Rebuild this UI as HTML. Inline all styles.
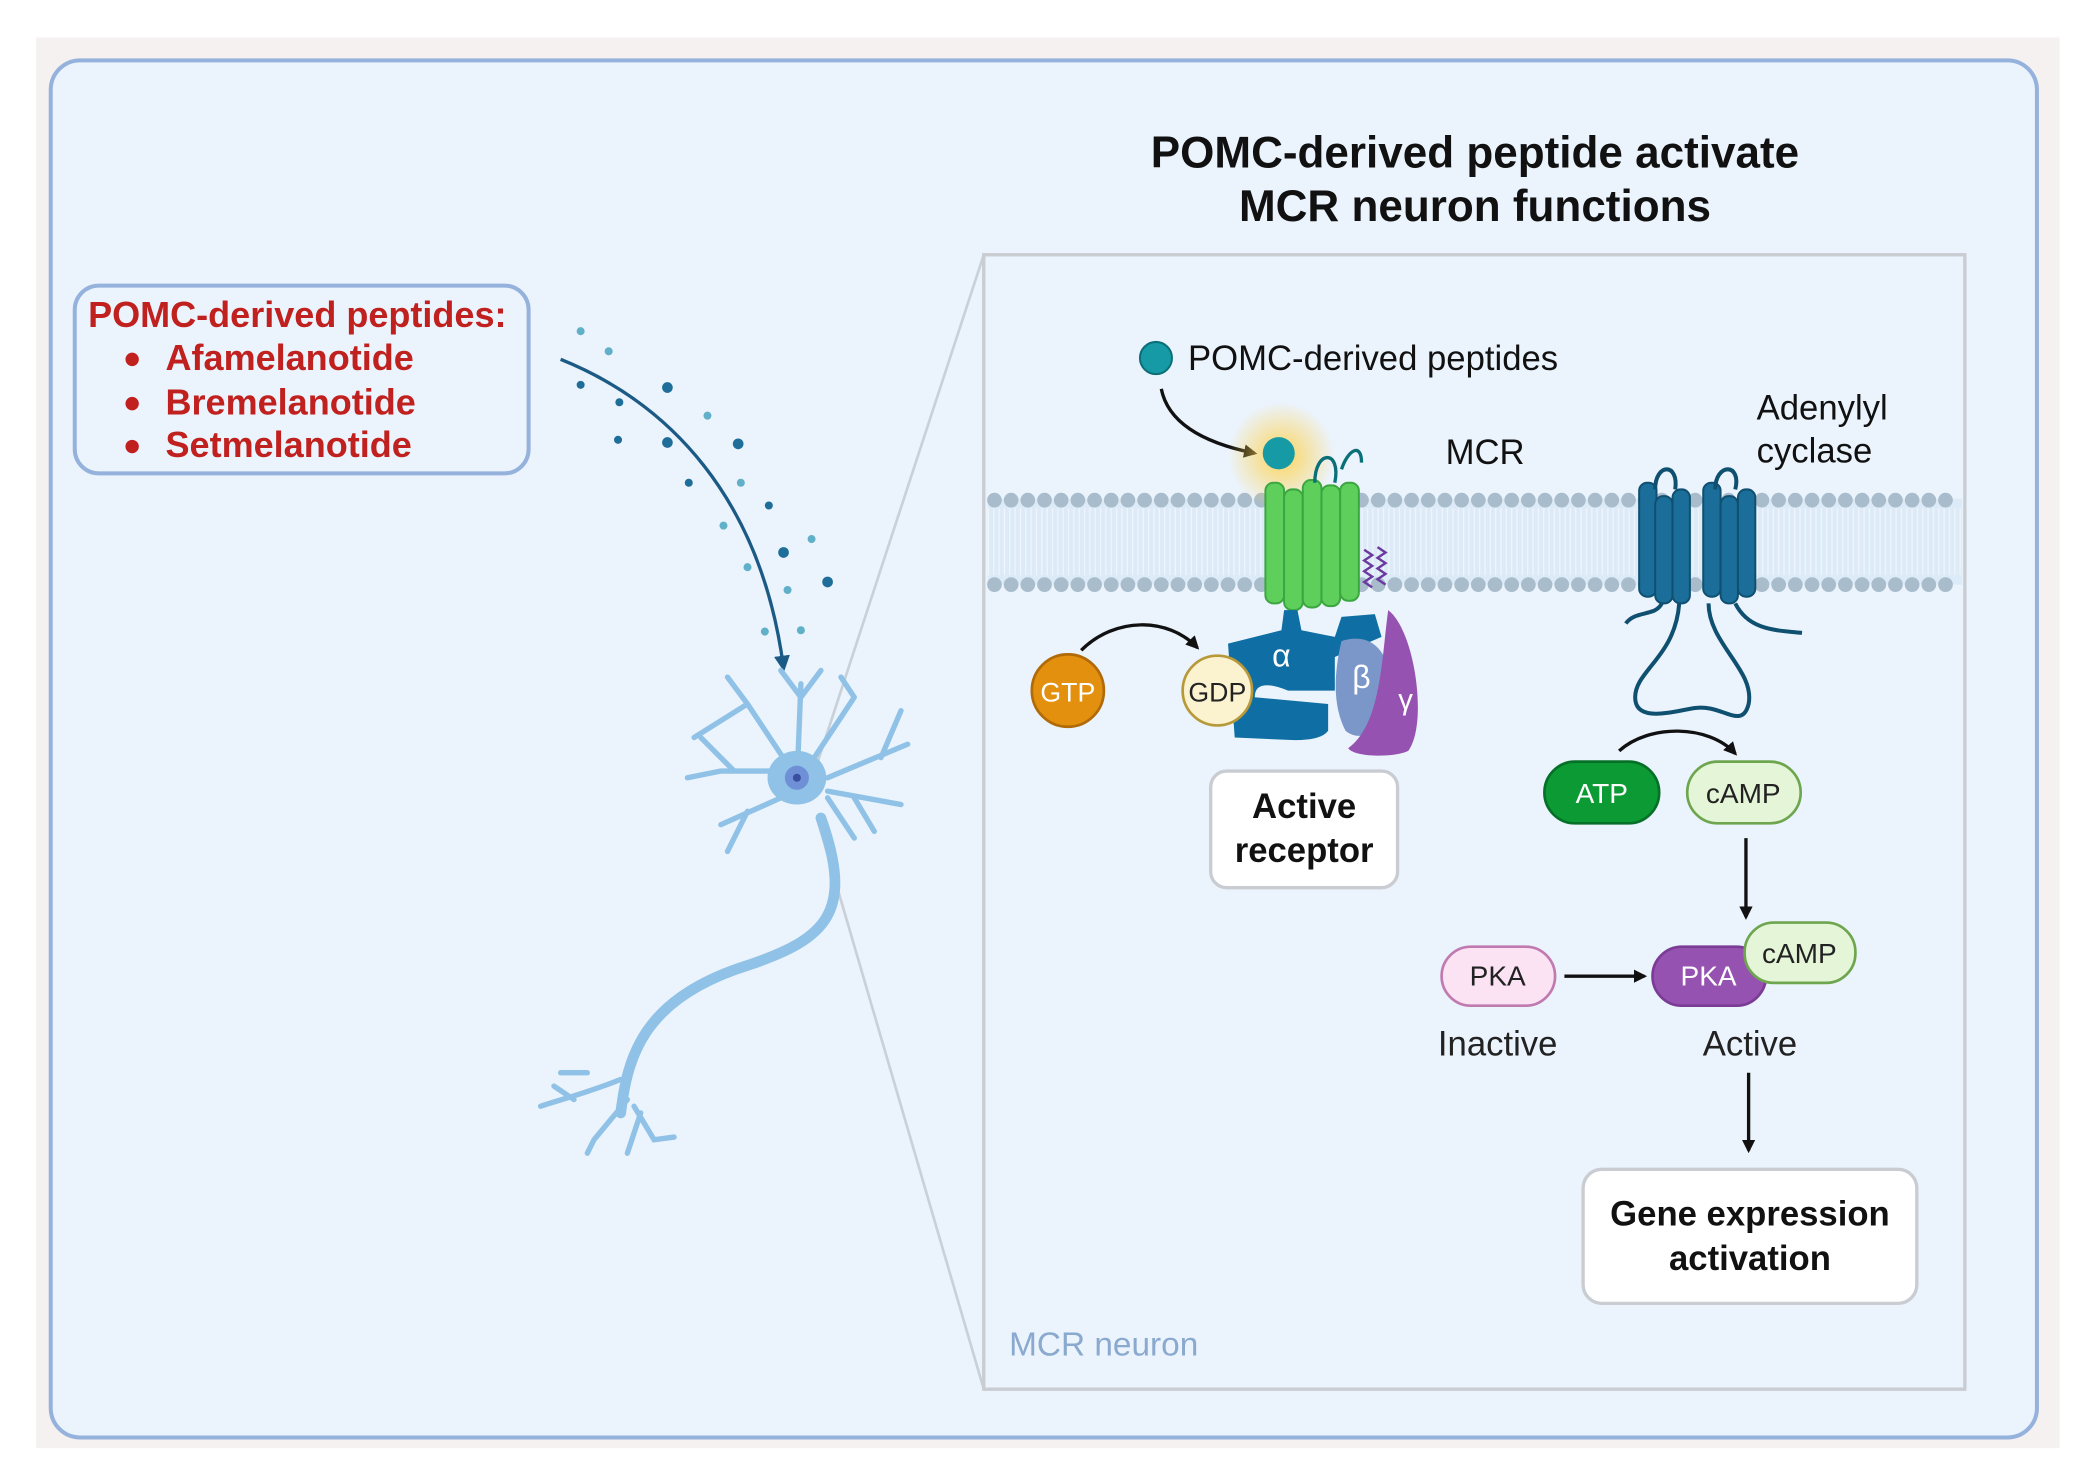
<!DOCTYPE html>
<html><head><meta charset="utf-8"><style>
html,body{margin:0;padding:0;background:#fff}
svg{display:block}
text{font-family:"Liberation Sans",sans-serif}
</style></head><body>
<svg width="2093" height="1475" viewBox="0 0 1568 1100" preserveAspectRatio="none" xmlns="http://www.w3.org/2000/svg">
<defs>
<radialGradient id="glow"><stop offset="0" stop-color="#ffd24a" stop-opacity="0.9"/><stop offset="1" stop-color="#ffd24a" stop-opacity="0"/></radialGradient>
<marker id="ah" markerWidth="10" markerHeight="10" refX="8" refY="5" orient="auto" markerUnits="userSpaceOnUse"><path d="M0,0 L10,5 L0,10 z" fill="#111"/></marker>
<marker id="ahb" markerWidth="12" markerHeight="12" refX="9" refY="6" orient="auto" markerUnits="userSpaceOnUse"><path d="M0,0 L12,6 L0,12 z" fill="#1c5a86"/></marker>
</defs>
<rect x="27" y="28" width="1516" height="1052" fill="#f6f1f1"/>
<rect x="38" y="45" width="1488" height="1027" rx="22" fill="#ebf3fc" stroke="#94b2dc" stroke-width="3"/>
<text x="1105" y="125" font-size="33" font-weight="bold" text-anchor="middle" fill="#111">POMC-derived peptide activate</text>
<text x="1105" y="165" font-size="33" font-weight="bold" text-anchor="middle" fill="#111">MCR neuron functions</text>
<line x1="612" y1="570" x2="737" y2="190" stroke="#c9d0d8" stroke-width="2"/>
<line x1="612" y1="610" x2="737" y2="1036" stroke="#c9d0d8" stroke-width="2"/>
<rect x="737" y="190" width="735" height="846" fill="#ebf3fc" stroke="#c9cdd2" stroke-width="2.5"/>
<rect x="56" y="213" width="340" height="140" rx="18" fill="#ebf3fc" stroke="#94b2dc" stroke-width="3"/>
<g fill="#c0201e" font-weight="bold" font-size="27">
<text x="66" y="244">POMC-derived peptides:</text>
<text x="124" y="276">Afamelanotide</text>
<text x="124" y="309">Bremelanotide</text>
<text x="124" y="341">Setmelanotide</text>
<circle cx="99" cy="268" r="5"/><circle cx="99" cy="301" r="5"/><circle cx="99" cy="333" r="5"/>
</g>
<path d="M420,268 C500,300 570,370 587,498" fill="none" stroke="#1c5a86" stroke-width="2.5" marker-end="url(#ahb)"/>
<g fill="#1f6e9a">
<circle cx="435" cy="247" r="3" fill="#5fb0c8"/><circle cx="456" cy="262" r="3" fill="#5fb0c8"/><circle cx="500" cy="289" r="4"/><circle cx="435" cy="287" r="3"/><circle cx="464" cy="300" r="3"/><circle cx="530" cy="310" r="3" fill="#5fb0c8"/><circle cx="500" cy="330" r="4"/><circle cx="553" cy="331" r="4"/><circle cx="463" cy="328" r="3"/><circle cx="516" cy="360" r="3"/><circle cx="555" cy="360" r="3" fill="#5fb0c8"/><circle cx="576" cy="377" r="3"/><circle cx="542" cy="392" r="3" fill="#5fb0c8"/><circle cx="587" cy="412" r="4"/><circle cx="608" cy="402" r="3" fill="#5fb0c8"/><circle cx="560" cy="423" r="3" fill="#5fb0c8"/><circle cx="620" cy="434" r="4"/><circle cx="590" cy="440" r="3" fill="#5fb0c8"/><circle cx="573" cy="471" r="3" fill="#5fb0c8"/><circle cx="600" cy="470" r="3" fill="#5fb0c8"/>
</g>
<g stroke="#8fc2e6" fill="none" stroke-linecap="round">
<path d="M615,610 C640,680 620,700 560,720 C480,745 470,790 465,830" stroke-width="8"/>
<path d="M465,805 C440,815 420,820 405,825 M470,820 L445,850 M445,850 L440,860 M475,825 L490,850 L505,848 M480,830 L470,860 M440,800 L420,800 M430,820 L415,810" stroke-width="4"/>
<path d="M598,560 L600,510 M600,520 L585,500 M600,520 L615,500 M585,575 L540,575 L515,580 M550,575 L525,550 M620,580 L680,555 M660,565 L675,530 M620,590 L675,600 M640,595 L655,620 M585,595 L540,615 M560,605 L545,635 M590,570 L560,525 M560,525 L545,505 M560,525 L520,550 M610,565 L640,520 M640,520 L630,505 M620,595 L640,625" stroke-width="4"/>
</g>
<ellipse cx="597" cy="580" rx="22" ry="20" fill="#8fc2e6"/>
<circle cx="597" cy="580" r="9" fill="#6f8fd6"/><circle cx="597" cy="580" r="3" fill="#3b4fa0"/>
<rect x="740" y="372" width="730" height="64" fill="#dcebf7"/>
<line x1="740" y1="404" x2="1470" y2="404" stroke="#eef5fb" stroke-width="50" stroke-dasharray="1 3"/>
<line x1="745" y1="373" x2="1470" y2="373" stroke="#a9bccb" stroke-width="11" stroke-dasharray="0 12.5" stroke-linecap="round"/>
<line x1="745" y1="436" x2="1470" y2="436" stroke="#a9bccb" stroke-width="11" stroke-dasharray="0 12.5" stroke-linecap="round"/>
<text x="890" y="276" font-size="26" fill="#111">POMC-derived peptides</text>
<circle cx="866" cy="267" r="12" fill="#159aa6" stroke="#0b6f78" stroke-width="1.5"/>
<path d="M870,290 C875,315 900,330 940,338" fill="none" stroke="#111" stroke-width="2.5" marker-end="url(#ah)"/>
<circle cx="960" cy="340" r="40" fill="url(#glow)"/>
<text x="1083" y="346" font-size="26" fill="#111">MCR</text>
<text x="1316" y="313" font-size="26" fill="#111">Adenylyl</text>
<text x="1316" y="345" font-size="26" fill="#111">cyclase</text>
<g fill="#5fcf5c" stroke="#3ca640" stroke-width="1.5">
<rect x="948" y="360" width="14" height="90" rx="6"/><rect x="962" y="365" width="14" height="90" rx="6"/><rect x="976" y="358" width="14" height="95" rx="6"/><rect x="990" y="362" width="14" height="90" rx="6"/><rect x="1004" y="360" width="14" height="88" rx="6"/>
</g>
<circle cx="958" cy="338" r="12" fill="#159aa6"/>
<path d="M985,360 C985,335 1005,335 1000,360 M1005,350 C1010,335 1020,330 1020,345" fill="none" stroke="#0b6f78" stroke-width="2.5"/>
<path d="M1022,410 l6,4 -6,4 6,4 -6,4 6,4 -6,4 6,4 M1032,408 l6,4 -6,4 6,4 -6,4 6,4 -6,4 6,4" fill="none" stroke="#6b3aa0" stroke-width="1.8"/>
<path d="M920,480 L960,470 L962,455 L972,455 L975,470 L1000,475 L1005,460 L1030,458 L1035,475 L1000,490 L1000,515 L965,515 Q940,505 940,520 L995,525 L995,545 Q990,552 970,552 L925,550 Z" fill="#0f6ea3"/>
<text x="960" y="497" font-size="24" fill="#fff" text-anchor="middle">α</text>
<path d="M1005,478 C1030,470 1045,490 1040,520 C1038,545 1020,555 1008,545 Q995,520 1005,478 Z" fill="#7b97c9"/>
<text x="1020" y="513" font-size="24" fill="#fff" text-anchor="middle">β</text>
<path d="M1040,455 C1060,470 1070,540 1055,560 C1045,565 1015,565 1010,558 C1035,540 1035,490 1040,455 Z" fill="#9552b0"/>
<text x="1053" y="529" font-size="22" fill="#fff" text-anchor="middle">γ</text>
<circle cx="912" cy="515" r="26" fill="#fbf2cf" stroke="#b8993a" stroke-width="2"/>
<text x="912" y="523" font-size="20" fill="#222" text-anchor="middle">GDP</text>
<circle cx="800" cy="515" r="27" fill="#e3900e" stroke="#b06a08" stroke-width="2"/>
<text x="800" y="523" font-size="20" fill="#fff" text-anchor="middle">GTP</text>
<path d="M810,485 C835,460 875,460 897,483" fill="none" stroke="#111" stroke-width="2.5" marker-end="url(#ah)"/>
<rect x="907" y="575" width="140" height="87" rx="12" fill="#fff" stroke="#c9cdd2" stroke-width="2.5"/>
<text x="977" y="610" font-size="26" font-weight="bold" text-anchor="middle" fill="#111">Active</text>
<text x="977" y="643" font-size="26" font-weight="bold" text-anchor="middle" fill="#111">receptor</text>
<g fill="#1a6e99" stroke="#0f4f70" stroke-width="1.5">
<rect x="1228" y="360" width="13" height="85" rx="6"/><rect x="1240" y="370" width="13" height="80" rx="6"/><rect x="1253" y="365" width="13" height="85" rx="6"/><rect x="1276" y="360" width="13" height="85" rx="6"/><rect x="1289" y="370" width="13" height="80" rx="6"/><rect x="1302" y="365" width="13" height="80" rx="6"/>
</g>
<path d="M1240,365 C1240,345 1258,345 1255,365 M1285,365 C1285,345 1305,345 1300,365" fill="none" stroke="#0f4f70" stroke-width="3"/>
<path d="M1245,450 C1240,460 1225,455 1218,465 M1300,450 C1310,470 1330,470 1350,472 M1258,450 C1255,490 1225,500 1225,520 C1225,540 1255,530 1270,528 C1290,525 1305,545 1310,525 C1315,500 1280,480 1280,450" fill="none" stroke="#0f4f70" stroke-width="3"/>
<path d="M1213,560 C1235,540 1280,540 1300,562" fill="none" stroke="#111" stroke-width="2.5" marker-end="url(#ah)"/>
<rect x="1157" y="568" width="86" height="46" rx="23" fill="#0c9a34" stroke="#067028" stroke-width="2"/>
<text x="1200" y="599" font-size="21" fill="#fff" text-anchor="middle">ATP</text>
<rect x="1264" y="568" width="85" height="46" rx="23" fill="#e5f5d8" stroke="#6ea64f" stroke-width="2"/>
<text x="1306" y="599" font-size="21" fill="#222" text-anchor="middle">cAMP</text>
<line x1="1308" y1="625" x2="1308" y2="684" stroke="#111" stroke-width="2.5" marker-end="url(#ah)"/>
<rect x="1080" y="706" width="85" height="44" rx="22" fill="#fbe3f3" stroke="#c07ab0" stroke-width="2"/>
<text x="1122" y="735" font-size="21" fill="#222" text-anchor="middle">PKA</text>
<line x1="1172" y1="728" x2="1232" y2="728" stroke="#111" stroke-width="2.5" marker-end="url(#ah)"/>
<rect x="1238" y="706" width="85" height="44" rx="22" fill="#9552b0" stroke="#7a3c95" stroke-width="2"/>
<text x="1280" y="735" font-size="21" fill="#fff" text-anchor="middle">PKA</text>
<rect x="1307" y="688" width="83" height="45" rx="22" fill="#e5f5d8" stroke="#6ea64f" stroke-width="2"/>
<text x="1348" y="718" font-size="21" fill="#222" text-anchor="middle">cAMP</text>
<text x="1122" y="787" font-size="26" fill="#222" text-anchor="middle">Inactive</text>
<text x="1311" y="787" font-size="26" fill="#222" text-anchor="middle">Active</text>
<line x1="1310" y1="800" x2="1310" y2="858" stroke="#111" stroke-width="2.5" marker-end="url(#ah)"/>
<rect x="1186" y="872" width="250" height="100" rx="14" fill="#fff" stroke="#c9cdd2" stroke-width="2.5"/>
<text x="1311" y="914" font-size="26" font-weight="bold" text-anchor="middle" fill="#111">Gene expression</text>
<text x="1311" y="947" font-size="26" font-weight="bold" text-anchor="middle" fill="#111">activation</text>
<text x="756" y="1011" font-size="25" fill="#8aa9cf">MCR neuron</text>
</svg>
</body></html>
